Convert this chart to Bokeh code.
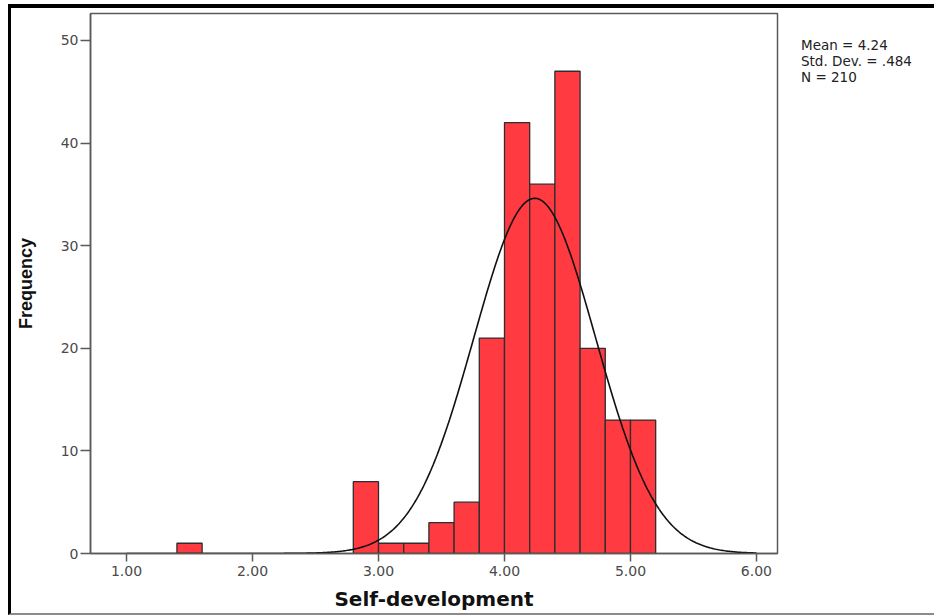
import numpy as np
from bokeh.plotting import figure
from bokeh.models import Range1d, FixedTicker, NumeralTickFormatter, Legend, LegendItem
from bokeh.embed import file_html
from bokeh.resources import INLINE

# Self-development scores, histogram with bins of width 0.2 (only non-empty bins)
bin_starts = [1.4, 2.8, 3.0, 3.2, 3.4, 3.6, 3.8, 4.0, 4.2, 4.4, 4.6, 4.8, 5.0]
counts = [1, 7, 1, 1, 3, 5, 21, 42, 36, 47, 20, 13, 13]
bin_width = 0.2

# Summary statistics shown beside the chart
mean = 4.24
std_dev = 0.484
n_cases = 210
stats_lines = ["Mean = 4.24", "Std. Dev. = .484", "N = 210"]

x_ticks = [1, 2, 3, 4, 5, 6]
y_ticks = [0, 10, 20, 30, 40, 50]

p = figure(
    frame_width=687, frame_height=540,
    output_backend="svg", toolbar_location=None,
    x_range=Range1d(0.714, 6.167), y_range=Range1d(0, 52.63),
    min_border_left=79, min_border_right=160,
    min_border_top=5, min_border_bottom=60,
)
# page frame: thick black rule on top and left, thin grey rule below
p.styles = {
    "margin-left": "8px",
    "margin-top": "4px",
    "border-left": "3px solid #000000",
    "border-top": "4px solid #000000",
    "border-bottom": "2px solid #8c8c8c",
}
p.background_fill_color = "white"
p.border_fill_color = "white"
p.outline_line_color = "#5a5a5a"
p.outline_line_width = 1.5
p.xgrid.visible = False
p.ygrid.visible = False

axis_grey = "#5a5a5a"
for ax in (p.xaxis[0], p.yaxis[0]):
    ax.axis_line_color = axis_grey
    ax.axis_line_width = 1.5
    ax.major_tick_line_color = axis_grey
    ax.major_tick_line_width = 1.5
    ax.major_tick_in = 0
    ax.minor_tick_line_color = None
    ax.major_label_text_font = "DejaVu Sans"
    ax.major_label_text_font_size = "14px"
    ax.major_label_text_color = "#4a4a4a"
    ax.axis_label_text_font_style = "bold"
    ax.axis_label_text_color = "#111111"

p.xaxis.ticker = FixedTicker(ticks=x_ticks)
p.xaxis.formatter = NumeralTickFormatter(format="0.00")
p.xaxis.major_tick_out = 8
p.xaxis.major_label_standoff = 4
p.xaxis.axis_label = "Self-development"
p.xaxis.axis_label_text_font = "DejaVu Sans"
p.xaxis.axis_label_text_font_size = "20px"
p.xaxis.axis_label_standoff = 8

p.yaxis.ticker = FixedTicker(ticks=y_ticks)
p.yaxis.major_tick_out = 10
p.yaxis.major_label_standoff = 2
p.yaxis.axis_label = "Frequency"
p.yaxis.axis_label_text_font = "Liberation Sans"
p.yaxis.axis_label_text_font_size = "18px"
p.yaxis.axis_label_standoff = 22

# histogram bars
lefts = list(bin_starts)
rights = [b + bin_width for b in bin_starts]
p.quad(left=lefts, right=rights, bottom=0, top=counts,
       fill_color="#ff3a40", line_color="#2e2e2e", line_width=1.3)

# fitted normal curve scaled to the counts
xs = np.linspace(1.0, 6.0, 500)
ys = n_cases * bin_width * np.exp(-0.5 * ((xs - mean) / std_dev) ** 2) / (std_dev * np.sqrt(2 * np.pi))
p.line(xs, ys, line_color="#111111", line_width=1.6)

# statistics block in the right-hand panel, text only (one multi-line entry)
stats = Legend(
    items=[LegendItem(label="\n".join(stats_lines), renderers=[])],
    location="top_left",
    orientation="vertical",
    glyph_width=0, glyph_height=10, label_height=10, label_standoff=0,
    spacing=0, padding=0, margin=24,
    border_line_color=None, background_fill_color=None, background_fill_alpha=0,
    label_text_font="DejaVu Sans", label_text_font_size="13.5px",
    label_text_line_height=0.78,
    label_text_color="#222222",
)
p.add_layout(stats, "right")

open("out.html", "w").write(file_html(p, INLINE))
